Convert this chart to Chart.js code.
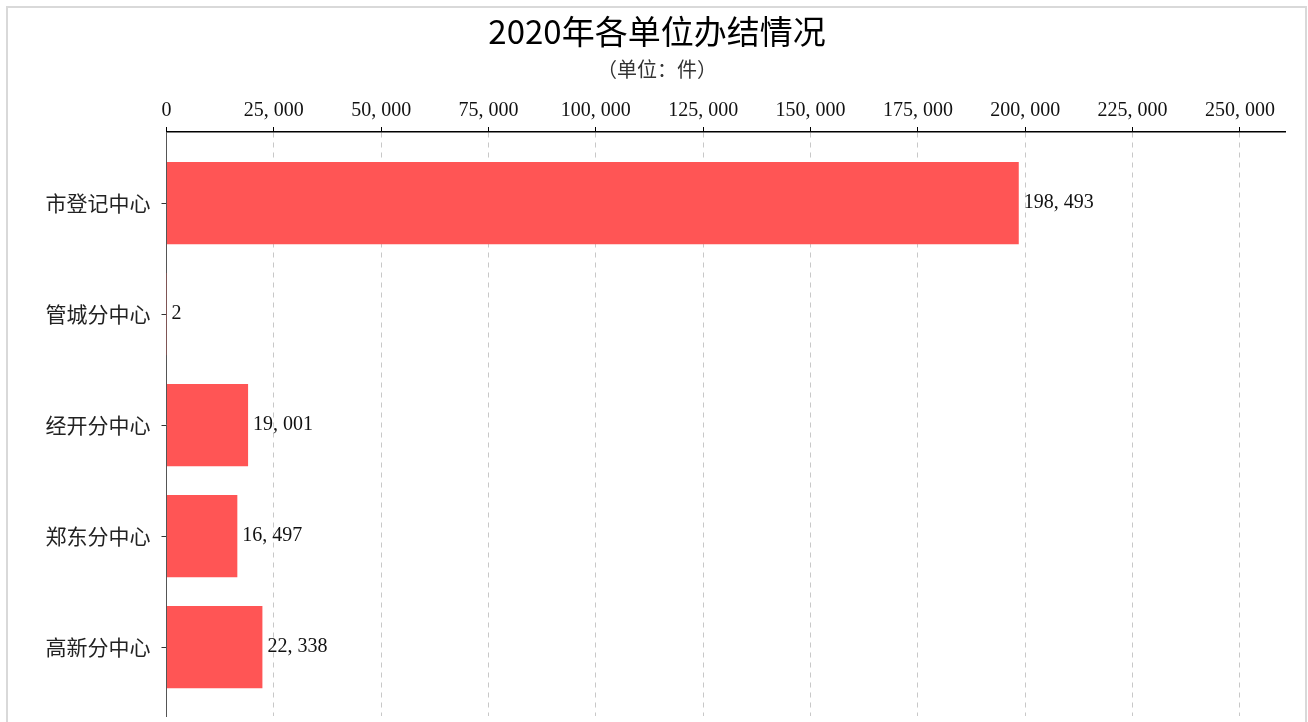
<!DOCTYPE html>
<html><head><meta charset="utf-8">
<script src="https://cdn.jsdelivr.net/npm/chart.js@4"></script>
<style>
html,body{margin:0;padding:0;background:#fff;overflow:hidden;}
#frame{position:absolute;left:6px;top:6px;width:1301px;height:800px;box-sizing:border-box;border:2px solid #d9d9d9;}
#c{position:absolute;left:0;top:0;}
</style></head><body>
<div id="frame"></div>
<canvas id="c" width="1308" height="722"></canvas>
<script>
const categories = ['市登记中心', '管城分中心', '经开分中心', '郑东分中心', '高新分中心'];
const values = [198493, 2, 19001, 16497, 22338];
const xTickValues = [0, 25000, 50000, 75000, 100000, 125000, 150000, 175000, 200000, 225000, 250000];
const titleText = '2020年各单位办结情况';
const subtitleText = '（单位：件）';

const fmt = v => Number(v).toLocaleString('en-US').replace(/,/g, ', ');

const barLabels = {
  id: 'barLabels',
  afterDatasetsDraw(chart) {
    const ctx = chart.ctx;
    const meta = chart.getDatasetMeta(0);
    ctx.save();
    ctx.font = '20px "Liberation Serif"';
    ctx.fillStyle = '#111';
    ctx.textAlign = 'left';
    ctx.textBaseline = 'middle';
    meta.data.forEach((bar, i) => {
      ctx.fillText(fmt(values[i]), bar.x + 5, bar.y);
    });
    ctx.restore();
  }
};

new Chart(document.getElementById('c'), {
  type: 'bar',
  data: {
    datasets: [{
      data: values.map((v, i) => ({ x: v, y: i })),
      backgroundColor: '#ff5555',
      borderWidth: 0,
      categoryPercentage: 1,
      barPercentage: 0.74
    }]
  },
  options: {
    indexAxis: 'y',
    responsive: false,
    animation: false,
    devicePixelRatio: 1,
    layout: { padding: { left: 29, right: 23, top: 0, bottom: 6 } },
    plugins: {
      legend: { display: false },
      tooltip: { enabled: false },
      title: {
        display: true, text: titleText, color: '#000',
        font: { family: '"Noto Sans CJK SC"', size: 33, weight: 'normal' },
        padding: { top: 12, bottom: 0 }
      },
      subtitle: {
        display: true, text: subtitleText, color: '#333',
        font: { family: '"Noto Sans CJK SC"', size: 20, weight: 'normal' },
        padding: { top: 6, bottom: 0 }
      }
    },
    scales: {
      x: {
        type: 'linear', position: 'top', min: 0, max: 260500,
        afterBuildTicks: s => { s.ticks = xTickValues.map(v => ({ value: v })); },
        afterFit: s => { s.height = 50.4; s.paddingLeft = 0; s.paddingRight = 0; },
        ticks: {
          callback: v => fmt(v), color: '#111', padding: 4, maxRotation: 0, autoSkip: false,
          font: { family: '"Liberation Serif"', size: 20 }
        },
        grid: { color: '#c8c8c8', lineWidth: 1, drawTicks: true, tickLength: 5, tickColor: '#000', tickWidth: 1 },
        border: { display: true, color: '#000', width: 1.5, dash: [5, 5] }
      },
      y: {
        type: 'linear', reverse: true, min: -0.64, max: 4.62, offset: false,
        afterBuildTicks: s => { s.ticks = categories.map((_, i) => ({ value: i })); },
        afterFit: s => { s.width = 137.5; s.paddingTop = 0; s.paddingBottom = 0; },
        ticks: {
          callback: v => categories[v], color: '#222', padding: 11, autoSkip: false,
          font: { family: '"Noto Sans CJK SC"', size: 21 }
        },
        grid: { offset: false, drawOnChartArea: false, drawTicks: true, tickLength: 5, tickColor: '#333', tickWidth: 1, color: '#333' },
        border: { display: true, color: '#555', width: 1 }
      }
    }
  },
  plugins: [barLabels]
});
</script>
</body></html>
